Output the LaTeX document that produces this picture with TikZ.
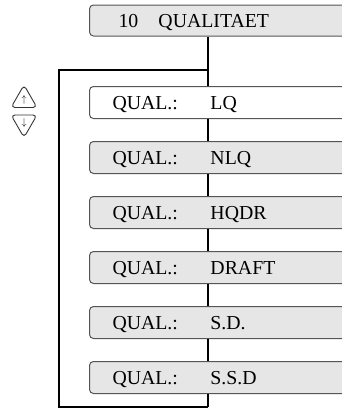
\documentclass[tikz,border=0pt]{standalone}
\usepackage{fontspec}
\setmainfont{Liberation Serif}
\usetikzlibrary{positioning, shapes.geometric}
\definecolor{boxgray}{RGB}{230,230,230}
\definecolor{edgegray}{RGB}{85,85,85}

\begin{document}
\begin{tikzpicture}[x=1pt, y=1pt, line width=2pt,
    qbox/.style={draw=edgegray, line width=1pt, fill=boxgray,
      rounded corners=4pt, anchor=west, text width=300pt, align=left,
      minimum height=32pt, inner xsep=23pt, inner ysep=0pt,
      text height=13pt, text depth=0pt,
      font=\fontsize{19.8}{20}\selectfont},
    keytri/.style={draw=black!80, line width=0.9pt, regular polygon,
      regular polygon sides=3, minimum size=30pt, inner sep=0pt,
      rounded corners=4pt, font=\normalsize}]
    \useasboundingbox (0,0) rectangle (342,-408);
    \clip (0,0) rectangle (342,-408);
    % menu entries
    \node[qbox, minimum height=31pt, inner xsep=29pt] (title) at (89,-20.5)
          {\makebox[40pt][l]{10}QUALITAET};
    \node[qbox, fill=white] (lq) at (89,-102.5) {\makebox[98pt][l]{QUAL.:}LQ};
    \node[qbox, below=22pt of lq.south west, anchor=north west] (nlq)
          {\makebox[98pt][l]{QUAL.:}NLQ};
    \node[qbox, below=22pt of nlq.south west, anchor=north west] (hqdr)
          {\makebox[98pt][l]{QUAL.:}HQDR};
    \node[qbox, below=22pt of hqdr.south west, anchor=north west] (draft)
          {\makebox[98pt][l]{QUAL.:}DRAFT};
    \node[qbox, below=22pt of draft.south west, anchor=north west] (sd)
          {\makebox[98pt][l]{QUAL.:}S.D.};
    \node[qbox, below=22pt of sd.south west, anchor=north west] (ssd)
          {\makebox[98pt][l]{QUAL.:}S.S.D};
    % keys
    \node[keytri] (keyup) at (24,-100) {\raisebox{-1pt}{$\uparrow$}};
    \node[keytri, shape border rotate=180] (keydown) at (24,-122.5)
          {\raisebox{1pt}{$\downarrow$}};
    % spine
    \coordinate (spine) at (208,0);
    \coordinate (turn) at (208,-70);
    \coordinate (loopend) at (59,-407);
    \coordinate (bottom) at (208,-407);
    \draw (title.south -| spine) -- (lq.north -| spine);
    \foreach \a/\b in {lq/nlq, nlq/hqdr, hqdr/draft, draft/sd, sd/ssd}
      \draw (\a.south -| spine) -- (\b.north -| spine);
    \draw (ssd.south -| spine) -- (bottom);
    % loop back
    \draw (turn) -| (loopend) -- (bottom);
\end{tikzpicture}
\end{document}
